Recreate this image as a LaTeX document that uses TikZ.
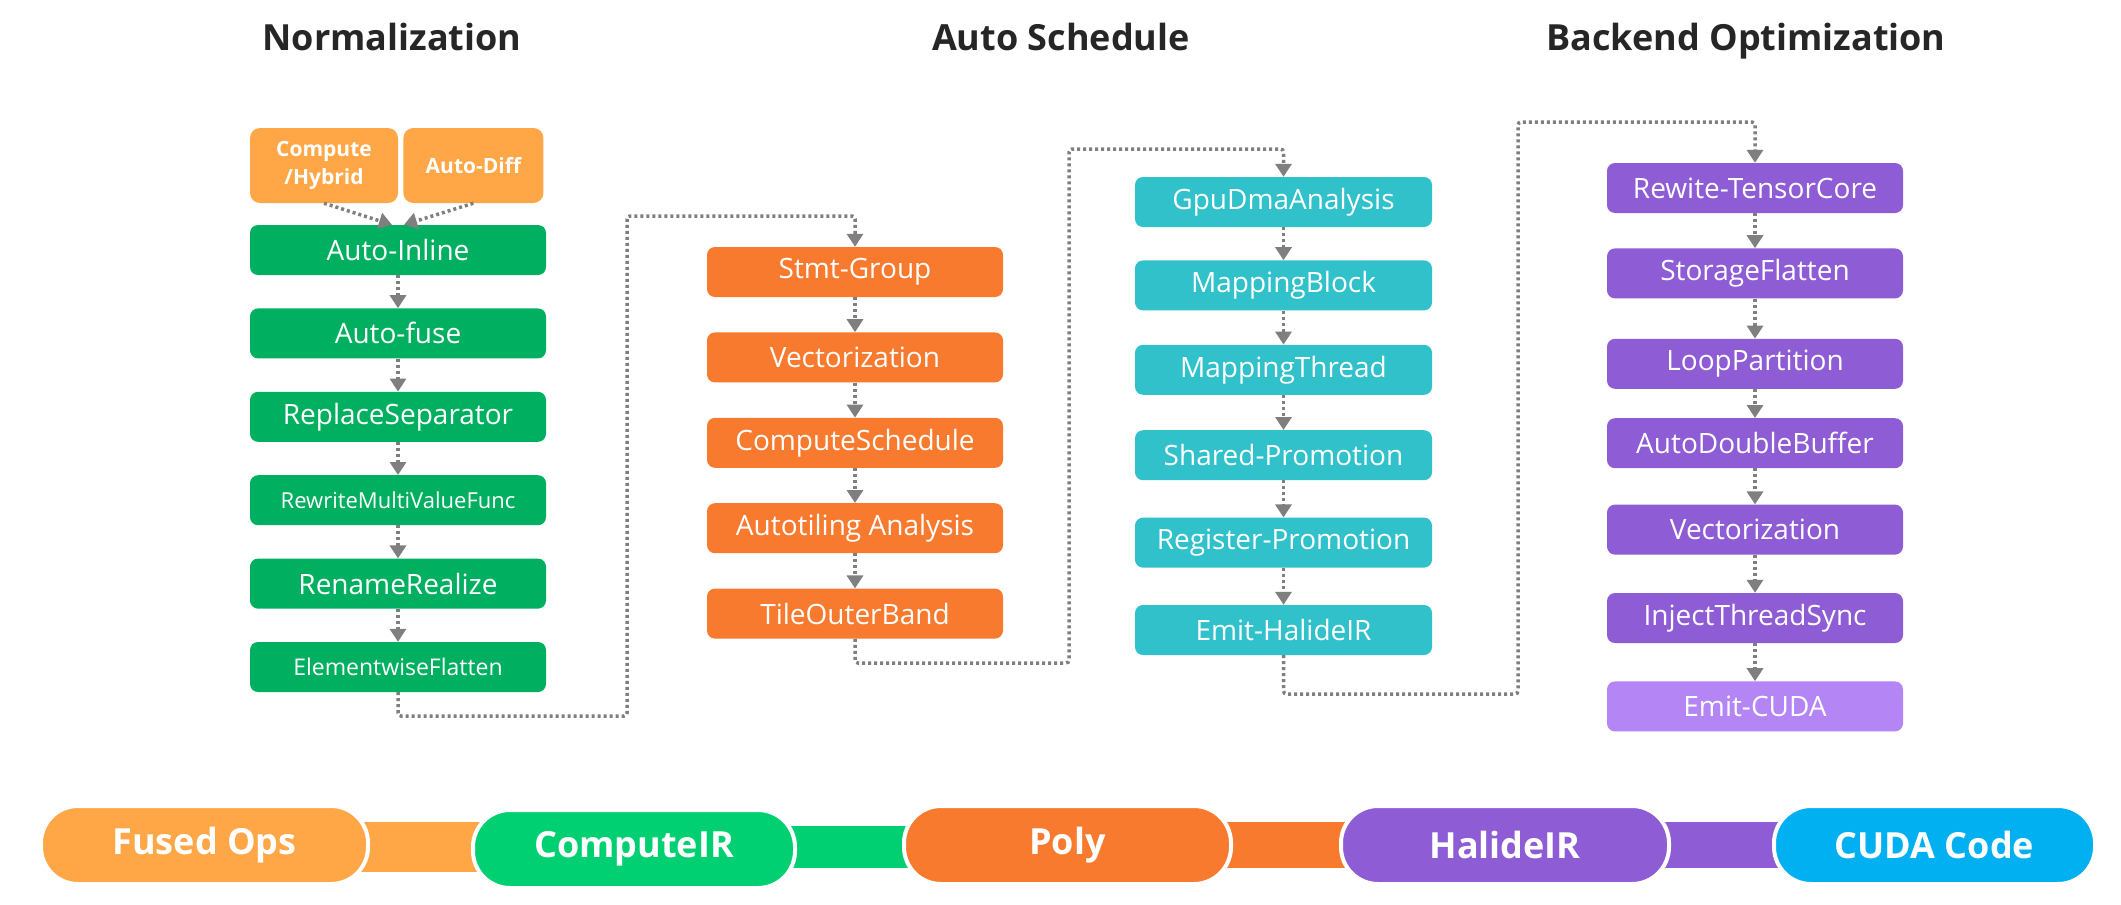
\documentclass[tikz,border=0pt]{standalone}
\usepackage{fontspec}
\setmainfont{Open Sans}
\usetikzlibrary{positioning,arrows.meta,backgrounds}

\definecolor{lorange}{HTML}{FFA646}
\definecolor{ngreen}{HTML}{00B060}
\definecolor{pgreen}{HTML}{00D072}
\definecolor{dorange}{HTML}{F87A2E}
\definecolor{tealbox}{HTML}{30C1CA}
\definecolor{pviolet}{HTML}{8E5CD5}
\definecolor{lviolet}{HTML}{B385F5}
\definecolor{cblue}{HTML}{00B0F0}
\definecolor{arrowgray}{HTML}{7F7F7F}

\tikzset{
  pass/.style={rectangle,rounded corners=8pt,minimum width=296pt,minimum height=50pt,
    inner sep=0pt,text=white,font=\fontsize{28}{32}\selectfont},
  src/.style={rectangle,rounded corners=10pt,minimum height=75pt,inner sep=0pt,
    align=center,fill=lorange,text=white,font=\bfseries\fontsize{21}{28}\selectfont},
  ir/.style={rectangle,rounded corners=37pt,draw=white,line width=4pt,minimum height=78pt,
    inner sep=0pt,text=white,font=\bfseries\fontsize{36}{40}\selectfont},
  flow/.style={draw=arrowgray,line width=3.5pt,dash pattern=on 3pt off 3pt,rounded corners=3pt,
    -{Triangle[width=16pt,length=13pt]}},
  stage/.style={anchor=base,text=black!85,font=\bfseries\fontsize{36}{40}\selectfont}
}

\begin{document}
\begin{tikzpicture}[x=1pt,y=-1pt]

  \useasboundingbox (0,0) rectangle (2121,905);

  % Stage titles
  \node[stage] (tnorm)  at (392,50)  {Normalization};
  \node[stage] (tsched) at (1061,50) {Auto Schedule};
  \node[stage] (tback)  at (1746,50) {Backend Optimization};

  % Normalization
  \node[src,minimum width=148pt] (chyb) at (324,165.5) {Compute\\/Hybrid};
  \node[src,minimum width=140pt,right=5pt of chyb] (adiff) {Auto-Diff};
  \begin{scope}[every node/.append style={fill=ngreen}]
    \node[pass] (ainl) at (398,250) {Auto-Inline};
    \node[pass,below=33pt of ainl]  (afuse) {Auto-fuse};
    \node[pass,below=33pt of afuse] (rsep)  {ReplaceSeparator};
    \node[pass,below=33pt of rsep,font=\fontsize{22}{26}\selectfont] (rmvf) {RewriteMultiValueFunc};
    \node[pass,below=33pt of rmvf]  (rnr)   {RenameRealize};
    \node[pass,below=33pt of rnr,font=\fontsize{23}{27}\selectfont] (eflat) {ElementwiseFlatten};
  \end{scope}

  \draw[flow] (chyb.south)  -- ([xshift=-6pt]ainl.north);
  \draw[flow] (adiff.south) -- ([xshift=6pt]ainl.north);
  \draw[flow] (ainl) -- (afuse);
  \draw[flow] (afuse) -- (rsep);
  \draw[flow] (rsep) -- (rmvf);
  \draw[flow] (rmvf) -- (rnr);
  \draw[flow] (rnr) -- (eflat);

  % Auto Schedule
  \begin{scope}[every node/.append style={fill=dorange}]
    \node[pass] (sgrp) at (855,272) {Stmt-Group};
    \node[pass,below=35pt of sgrp] (vect1) {Vectorization};
    \node[pass,below=35pt of vect1] (csch) {ComputeSchedule};
    \node[pass,below=35pt of csch] (atil) {Autotiling Analysis};
    \node[pass,below=35pt of atil] (tob) {TileOuterBand};
  \end{scope}

  \coordinate (k1) at (627,716);
  \coordinate (k2) at (627,216);
  \draw[flow] (eflat.south) |- (k1) -- (k2) -| (sgrp.north);
  \draw[flow] (sgrp) -- (vect1);
  \draw[flow] (vect1) -- (csch);
  \draw[flow] (csch) -- (atil);
  \draw[flow] (atil) -- (tob);

  \begin{scope}[every node/.append style={fill=tealbox}]
    \node[pass,minimum width=297pt] (gdma) at (1283.5,202) {GpuDmaAnalysis};
    \node[pass,minimum width=297pt,below=33pt of gdma] (mblk) {MappingBlock};
    \node[pass,minimum width=297pt,below=34pt of mblk] (mthr) {MappingThread};
    \node[pass,minimum width=297pt,below=35pt of mthr] (shp)  {Shared-Promotion};
    \node[pass,minimum width=297pt,below=37pt of shp]  (rgp)  {Register-Promotion};
    \node[pass,minimum width=297pt,below=37pt of rgp]  (ehir) {Emit-HalideIR};
  \end{scope}

  \coordinate (k3) at (1069,663);
  \coordinate (k4) at (1069,149);
  \draw[flow] (tob.south) |- (k3) -- (k4) -| (gdma.north);
  \draw[flow] (gdma) -- (mblk);
  \draw[flow] (mblk) -- (mthr);
  \draw[flow] (mthr) -- (shp);
  \draw[flow] (shp) -- (rgp);
  \draw[flow] (rgp) -- (ehir);

  % Backend Optimization
  \begin{scope}[every node/.append style={fill=pviolet,minimum width=311pt}]
    \node[pass,minimum width=296pt] (rtc) at (1755,188) {Rewite-TensorCore};
    \node[pass,below=35pt of rtc]  (sfl)  {StorageFlatten};
    \node[pass,below=40pt of sfl]  (lpar) {LoopPartition};
    \node[pass,below=29pt of lpar] (adb)  {AutoDoubleBuffer};
    \node[pass,below=36pt of adb]  (vect2) {Vectorization};
    \node[pass,below=38pt of vect2] (its) {InjectThreadSync};
    \node[pass,below=38pt of its,fill=lviolet] (ecu) {Emit-CUDA};
  \end{scope}

  \coordinate (k5) at (1518,694);
  \coordinate (k6) at (1518,122);
  \draw[flow] (ehir.south) |- (k5) -- (k6) -| (rtc.north);
  \draw[flow] (rtc) -- (sfl);
  \draw[flow] (sfl) -- (lpar);
  \draw[flow] (lpar) -- (adb);
  \draw[flow] (adb) -- (vect2);
  \draw[flow] (vect2) -- (its);
  \draw[flow] (its) -- (ecu);

  % IR chain
  \node[ir,fill=lorange,minimum width=327pt] (fops) at (204.5,845) {Fused Ops};
  \node[ir,fill=pgreen,minimum width=322pt] (cir) at (634,849) {ComputeIR};
  \node[ir,fill=dorange,minimum width=327pt] (poly) at (1067.5,845) {Poly};
  \node[ir,fill=pviolet,minimum width=328pt] (hir) at (1505,845) {HalideIR};
  \node[ir,fill=cblue,minimum width=321pt] (cuda) at (1934.5,845) {CUDA Code};

  \begin{scope}[on background layer]
    \fill[white] (0,0) rectangle (2121,905);
    \fill[lorange] ([yshift=23pt]fops.center) rectangle ([yshift=-23pt]cir.center);
    \fill[pgreen]  ([yshift=23pt]cir.center)  rectangle ([yshift=-23pt]poly.center);
    \fill[dorange] ([yshift=23pt]poly.center) rectangle ([yshift=-23pt]hir.center);
    \fill[pviolet] ([yshift=23pt]hir.center)  rectangle ([yshift=-23pt]cuda.center);
  \end{scope}

\end{tikzpicture}
\end{document}
